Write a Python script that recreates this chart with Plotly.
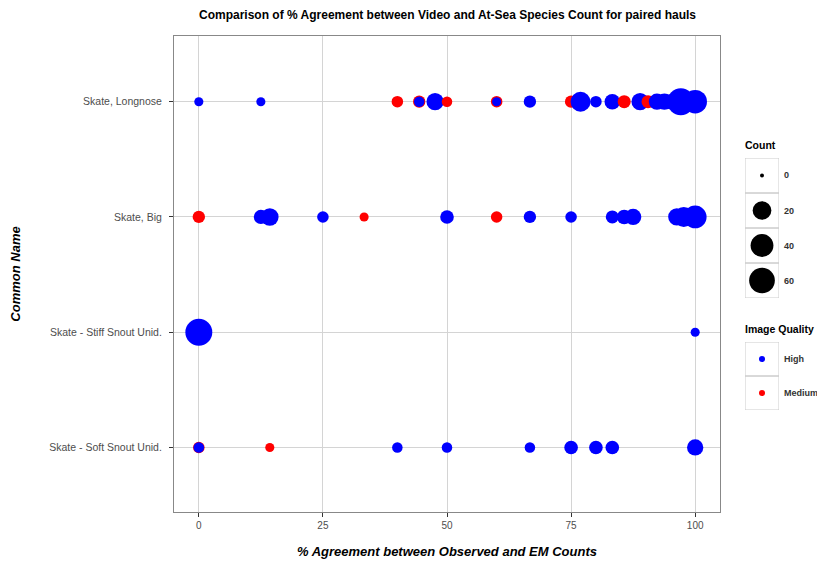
"""
Comparison of % agreement between video and at-sea species counts (paired hauls)
"""
import plotly.graph_objects as go

# categories, top to bottom
species_order = ['Skate, Longnose', 'Skate, Big', 'Skate - Stiff Snout Unid.', 'Skate - Soft Snout Unid.']

# one row per point, in drawing order
species = (['Skate, Longnose'] * 23 + ['Skate, Big'] * 15 +
           ['Skate - Stiff Snout Unid.'] * 2 + ['Skate - Soft Snout Unid.'] * 10)
pct_agree = [0, 12.5, 40, 44.4, 44.4, 47.6, 50, 60, 60, 66.7, 75, 76.9, 80, 83.3, 85.7, 88.9,
             90.5, 92.3, 94.4, 93.8, 95.2, 97.1, 100,
             0, 12.5, 14.3, 25, 33.3, 50, 60, 66.7, 75, 83.3, 85.7, 87.5, 96.3, 97.7, 100,
             0, 100,
             0, 0, 14.3, 40, 50, 66.7, 75, 80, 83.3, 100]
counts = [1, 1, 3, 4, 2, 15, 2, 3, 1, 4, 4, 25, 3, 10, 5, 15,
          5, 12, 5, 12, 10, 70, 45,
          4, 7, 16, 3, 1, 6, 3, 4, 3, 5, 8, 12, 15, 25, 40,
          70, 1,
          3, 2, 1, 2, 2, 2, 6, 6, 6, 12]
quality = ['High', 'High', 'Medium', 'Medium', 'High', 'High', 'Medium', 'Medium', 'High', 'High',
           'Medium', 'High', 'High', 'High', 'Medium', 'High', 'Medium', 'High', 'Medium', 'High',
           'High', 'High', 'High',
           'Medium', 'High', 'High', 'High', 'Medium', 'High', 'Medium', 'High', 'High', 'High',
           'High', 'High', 'High', 'High', 'High',
           'High', 'High',
           'Medium', 'High', 'Medium', 'High', 'High', 'High', 'High', 'High', 'High', 'High']

x_ticks = [0, 25, 50, 75, 100]
count_breaks = [0, 20, 40, 60]
quality_levels = ['High', 'Medium']
quality_colors = {'High': '#0000FF', 'Medium': '#FF0000'}


def point_size(c):
    # diameter in px, area-style scale like ggplot's scale_size
    return 4 + 5.1 * c ** 0.354


# page pixel -> paper (page has an 8px body margin; margins l=166, r=0, t=28, b=53)
def px(x):
    return (x - 174) / 651


def py(y):
    return (512 - y) / 476


FONT = 'Liberation Sans, Arial, sans-serif'
TXT = '#333333'

fig = go.Figure()

fig.add_trace(go.Scatter(
    x=pct_agree, y=species, mode='markers',
    marker=dict(size=[point_size(c) for c in counts],
                color=[quality_colors[q] for q in quality],
                line=dict(width=0), opacity=1),
    showlegend=False, hoverinfo='x+y'))

# Count legend (sizes)
fig.add_trace(go.Scatter(
    x=[0.5] * len(count_breaks), y=[i + 0.5 for i in range(len(count_breaks))],
    mode='markers', xaxis='x2', yaxis='y2',
    marker=dict(size=[point_size(c) for c in count_breaks], color='#000000',
                opacity=1, line=dict(width=0)),
    showlegend=False, hoverinfo='skip'))

# Image Quality legend (colours)
fig.add_trace(go.Scatter(
    x=[0.5] * len(quality_levels), y=[i + 0.5 for i in range(len(quality_levels))],
    mode='markers', xaxis='x3', yaxis='y3',
    marker=dict(size=6, color=[quality_colors[q] for q in quality_levels],
                opacity=1, line=dict(width=0)),
    showlegend=False, hoverinfo='skip'))

shapes = []
for i in range(len(count_breaks)):
    shapes.append(dict(type='rect', xref='x2', yref='y2', x0=0, x1=1, y0=i, y1=i + 1,
                       line=dict(color='#cccccc', width=1), layer='below'))
for i in range(len(quality_levels)):
    shapes.append(dict(type='rect', xref='x3', yref='y3', x0=0, x1=1, y0=i, y1=i + 1,
                       line=dict(color='#cccccc', width=1), layer='below'))

annotations = [
    dict(text='Count', xref='paper', yref='paper', x=px(743), y=py(145), xanchor='left',
         yanchor='middle', showarrow=False,
         font=dict(family=FONT, size=10.5, color='black', weight='bold')),
    dict(text='Image Quality', xref='paper', yref='paper', x=px(743), y=py(329), xanchor='left',
         yanchor='middle', showarrow=False,
         font=dict(family=FONT, size=10.5, color='black', weight='bold')),
]
for c, yy in zip(count_breaks, [175.5, 210.5, 245.5, 280.5]):
    annotations.append(dict(text=str(c), xref='paper', yref='paper', x=px(782), y=py(yy),
                            xanchor='left', yanchor='middle', showarrow=False,
                            font=dict(family=FONT, size=9, color=TXT, weight='bold')))
for q, yy in zip(quality_levels, [359, 393]):
    annotations.append(dict(text=q, xref='paper', yref='paper', x=px(782), y=py(yy),
                            xanchor='left', yanchor='middle', showarrow=False,
                            font=dict(family=FONT, size=9, color=TXT, weight='bold')))

# Custom the figure
fig.update_layout(
    width=817, height=557,
    margin=dict(l=166, r=0, t=28, b=53),
    paper_bgcolor='white', plot_bgcolor='white',
    title=dict(text='Comparison of % Agreement between Video and At-Sea Species Count for paired hauls',
               x=(447.5 - 8) / 817, xanchor='center', y=1 - 7 / 557, yanchor='middle',
               font=dict(family=FONT, size=12, color='black', weight='bold')),
    xaxis=dict(domain=[0, 546 / 651], range=[-5, 105], tickvals=x_ticks, automargin=False,
               showgrid=True, gridcolor='#d4d4d4', gridwidth=1, zeroline=False,
               showline=True, mirror=True, linecolor='#888888', linewidth=1,
               ticks='outside', ticklen=4, tickcolor='#333333',
               tickfont=dict(family=FONT, size=10, color='#4d4d4d'),
               title=dict(text='% Agreement between Observed and EM Counts', standoff=16,
                          font=dict(family=FONT, size=13, color='black', weight='bold', style='italic'))),
    yaxis=dict(type='category', categoryorder='array', categoryarray=species_order, automargin=False,
               range=[3.56, -0.57], showgrid=True, gridcolor='#d4d4d4', gridwidth=1,
               zeroline=False, showline=True, mirror=True, linecolor='#888888', linewidth=1,
               ticks='outside', ticklen=4, tickcolor='#333333', ticklabelstandoff=5,
               tickfont=dict(family=FONT, size=10.5, color='#4d4d4d'),
               title=dict(text='Common Name', standoff=27,
                          font=dict(family=FONT, size=13, color='black', weight='bold', style='italic'))),
    xaxis2=dict(domain=[px(745), px(779)], range=[0, 1], visible=False, fixedrange=True),
    yaxis2=dict(domain=[py(298), py(158)], range=[4, 0], visible=False,
                fixedrange=True, anchor='x2'),
    xaxis3=dict(domain=[px(745), px(779)], range=[0, 1], visible=False, fixedrange=True),
    yaxis3=dict(domain=[py(410), py(342)], range=[2, 0], visible=False,
                fixedrange=True, anchor='x3'),
    shapes=shapes,
    annotations=annotations,
)

fig.write_html('out.html')
